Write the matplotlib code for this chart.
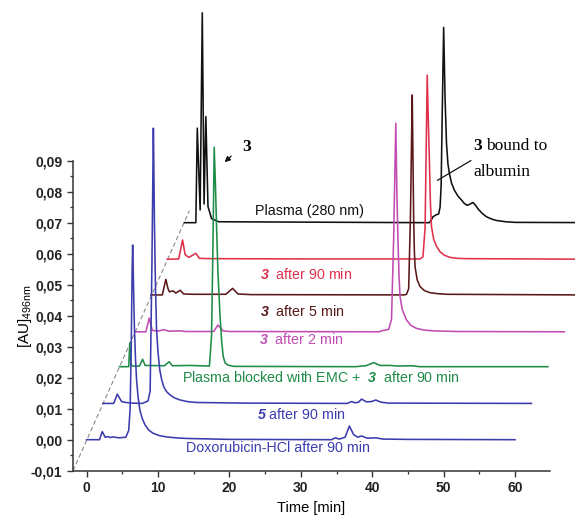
import matplotlib
matplotlib.use('Agg')
import matplotlib.pyplot as plt
from matplotlib.ticker import MultipleLocator, FuncFormatter

plt.rcParams['font.family'] = ['Liberation Sans', 'DejaVu Sans']
plt.rcParams['mathtext.fontset'] = 'custom'
plt.rcParams['mathtext.rm'] = 'Liberation Sans'
plt.rcParams['mathtext.bf'] = 'Liberation Sans:italic:bold'
plt.rcParams['mathtext.default'] = 'regular'

# each trace: own time (min) and absorbance above its own baseline,
# plus the waterfall shift (time, AU) used in the figure
dox_t = [0, 1.8, 2.2, 2.6, 3.0, 3.3, 3.7, 4.5, 5.5, 5.9, 6.1, 6.25, 6.38, 6.45, 6.55, 6.7, 6.85, 7.0, 7.2, 7.46,
         7.8, 8.2, 8.7, 9.3, 10.2, 11.2, 12.5, 14, 20,
         34.3, 34.8, 35.4, 36.2, 36.8, 37.4, 38.0, 38.5, 39.3, 40.5, 41.5, 45, 60]
dox_v = [0, 0, 0.0026, 0.0008, 0.0010, 0.0007, 0.0009, 0.0006, 0.0008, 0.0030, 0.010, 0.030, 0.055, 0.0628, 0.052,
         0.036, 0.026, 0.0193, 0.0140, 0.0096, 0.0068, 0.0047, 0.0031, 0.0021, 0.0013, 0.0009, 0.0006, 0.0004, 0.0001,
         0, 0.0006, 0.0002, 0.0008, 0.0044, 0.0016, 0.0008, 0.0012, 0.0005, 0.0006, 0.0002, 0.0001, 0]

c5_t = [0, 1.5, 2.0, 2.6, 3.2, 4.0, 5.5, 6.3, 6.6, 6.85, 7.05, 7.1, 7.2, 7.35, 7.5, 7.7, 7.95, 8.2, 8.5, 8.9,
        9.4, 10.0, 10.8, 11.8, 13.1, 20,
        34.2, 34.8, 35.3, 35.8, 36.2, 36.9, 37.6, 38.2, 38.9, 40, 60]
c5_v = [0, 0, 0.0030, 0.0006, 0.0003, 0.0001, 0, 0.0008, 0.004, 0.045, 0.0888, 0.08, 0.058, 0.037, 0.0237, 0.0165,
        0.0108, 0.0078, 0.0054, 0.0038, 0.0027, 0.0018, 0.0011, 0.0006, 0.0003, 0.0001,
        0, 0.0006, 0.0002, 0.0004, 0.0014, 0.0005, 0.0006, 0.0011, 0.0004, 0.0001, 0]

emc_t = [0, 1.3, 1.45, 1.6, 1.8, 2.8, 3.24, 3.6, 6.3, 6.97, 7.4, 9.9, 12.6, 12.9, 13.1, 13.27, 13.45, 13.6, 13.8,
         14.07, 14.3, 14.53, 14.8, 15.2, 16, 33, 34.5, 35.6, 36.5, 37.9, 39.0, 41.1, 42, 60]
emc_v = [0, 0, 0.0077, 0.001, 0.0002, 0.0002, 0.0024, 0.0004, 0.0003, 0.0016, 0.0003, 0.0004, 0.0002, 0.01, 0.04,
         0.0708, 0.058, 0.045, 0.030, 0.0172, 0.0085, 0.0033, 0.0012, 0.0005, 0.0001, 0, 0.0003, 0.0013, 0.0004,
         0.0004, 0.0002, 0.0003, 0, 0]

m2_t = [0, 1.4, 1.87, 2.3, 3.0, 3.93, 4.6, 6.1, 7.0, 10.9, 11.5, 12.2, 13, 34, 34.6, 35.4, 35.8, 36.1, 36.4, 36.55,
        36.7, 36.85, 37.0, 37.3, 37.9, 38.5, 39.3, 40.3, 41.6, 45, 60]
m2_v = [0, 0, 0.0044, 0.0005, 0.0002, 0.0007, 0.0002, 0.0003, 0.0001, 0.0001, 0.0022, 0.0003, 0.0001, 0, 0.0004,
        0.0008, 0.004, 0.03, 0.0673, 0.045, 0.03, 0.018, 0.0113, 0.0072, 0.0038, 0.0021, 0.0011, 0.0006, 0.0003,
        0.0001, 0]

m5_t = [0, 1.6, 2.1, 2.4, 2.6, 3.1, 3.5, 4.1, 4.6, 6, 10.5, 11.44, 12.2, 14, 35.5, 35.8, 36.1, 36.35, 36.6, 36.7,
        36.8, 36.9, 37.0, 37.3, 37.7, 38.3, 39.1, 40.2, 41.5, 60]
m5_v = [0, 0, 0.005, 0.002, 0.0010, 0.0013, 0.0006, 0.0015, 0.0003, 0.0002, 0.0002, 0.0021, 0.0003, 0.0001, 0,
        0.0002, 0.002, 0.025, 0.0645, 0.045, 0.025, 0.014, 0.009, 0.0048, 0.0027, 0.0014, 0.0007, 0.0004, 0.0002, 0]

m90_t = [0, 1.6, 2.14, 2.5, 3.0, 4.0, 4.5, 6, 20, 35.4, 35.8, 36.1, 36.4, 36.55, 36.7, 36.85, 37.0, 37.3, 37.7,
         38.2, 38.8, 39.6, 40.6, 42, 60]
m90_v = [0, 0.0001, 0.0062, 0.0015, 0.0006, 0.0019, 0.0003, 0.0002, 0.0001, 0.0001, 0.0008, 0.01, 0.0594, 0.045,
         0.032, 0.018, 0.0105, 0.0065, 0.0042, 0.0024, 0.0013, 0.0006, 0.0003, 0.0002, 0]

pl_t = [0, 1.6, 1.8, 2.2, 2.5, 2.75, 3.0, 3.3, 3.8, 4.8, 34.3, 34.6, 34.8, 35.3, 35.6, 35.8, 35.95, 36.1, 36.3,
        36.5, 36.7, 36.9, 37.1, 37.4, 37.8, 38.3, 38.8, 39.2, 39.6, 40.0, 40.4, 40.7, 41.1, 41.7, 42.3, 43.0, 43.7,
        45, 46.3, 60]
pl_v = [0, 0, 0.0305, 0.0041, 0.0677, 0.006, 0.0342, 0.0052, 0.0013, 0.0003, 0, 0.001, 0.0019, 0.0026, 0.0028,
        0.005, 0.012, 0.035, 0.063, 0.040, 0.0256, 0.019, 0.0159, 0.0128, 0.0105, 0.0086, 0.0073, 0.0062, 0.0056,
        0.0060, 0.0065, 0.0058, 0.0045, 0.0030, 0.0019, 0.0012, 0.0007, 0.0003, 0.0001, 0]

shift_t = [0, 2.3, 4.6, 6.9, 9.0, 11.3, 13.7]
shift_v = [0, 0.0117, 0.02355, 0.0348, 0.0467, 0.0582, 0.0700]

colors = ['#3c3cae', '#3c3cae', '#1f8c48', '#c04cb4', '#5a1818', '#e0304c', '#111111']
labels = ['Doxorubicin-HCl after 90 min', r'$\mathbf{5}$ after 90 min',
          r'Plasma blocked with EMC +  $\mathbf{3}$  after 90 min',
          r'$\mathbf{3}$  after 2 min', r'$\mathbf{3}$  after 5 min', r'$\mathbf{3}$  after 90 min',
          'Plasma (280 nm)']
label_t = [26.8, 30.0, 32.8, 30.1, 30.2, 30.7, 31.2]
label_v = [-0.0027, 0.0080, 0.0202, 0.0322, 0.0413, 0.0533, 0.0737]

guide_t = [-1.9, 14.4]
guide_v = [-0.01, 0.0739]

traces = [(dox_t, dox_v), (c5_t, c5_v), (emc_t, emc_v), (m2_t, m2_v), (m5_t, m5_v), (m90_t, m90_v), (pl_t, pl_v)]

fig = plt.figure(figsize=(5.75, 5.16), dpi=100)
ax = fig.add_axes([0.127, 0.0878, 0.8296, 0.6008])

ax.plot(guide_t, guide_v, color='#8a8a8a', lw=0.8, dashes=(4, 2.5), clip_on=False)

# draw back to front so the lower traces sit on top
for i in reversed(range(len(traces))):
    t, v = traces[i]
    ax.plot([x + shift_t[i] for x in t], [y + shift_v[i] for y in v],
            color=colors[i], lw=1.15, clip_on=False, solid_joinstyle='round',
            zorder=3 + (len(traces) - i) * 0.1)
    ax.text(label_t[i], label_v[i], labels[i], color=colors[i], fontsize=10.3,
            ha='center', va='center')

# annotations
serif = ['Liberation Serif', 'DejaVu Serif']
ax.text(21.85, 0.0945, '3', fontsize=12.5, family=serif, fontweight='bold', ha='left', va='center')
ax.annotate('', xy=(19.05, 0.0889), xytext=(20.53, 0.0921), annotation_clip=False,
            arrowprops=dict(arrowstyle='-|>', color='#111111', lw=0.9, mutation_scale=8))
ax.text(54.1, 0.0947, '3', fontsize=12.5, family=serif, fontweight='bold', ha='left', va='center')
ax.annotate('bound to', xy=(54.1, 0.0947), xytext=(9.5, 0), textcoords='offset points',
            fontsize=12.5, family=serif, ha='left', va='center', annotation_clip=False)
ax.text(54.1, 0.0865, 'albumin', fontsize=12.5, family=serif, ha='left', va='center')
ax.annotate('', xy=(48.8, 0.0832), xytext=(54.16, 0.0905), annotation_clip=False,
            arrowprops=dict(arrowstyle='-', color='#111111', lw=0.9))

ax.set_xlim(-1.9, 64.9)
ax.set_ylim(-0.01, 0.09)
ax.xaxis.set_major_locator(MultipleLocator(10))
ax.xaxis.set_minor_locator(MultipleLocator(5))
ax.yaxis.set_major_locator(MultipleLocator(0.01))
ax.yaxis.set_minor_locator(MultipleLocator(0.005))
ax.yaxis.set_major_formatter(FuncFormatter(lambda v, p: f'{v:.2f}'.replace('.', ',')))

for s in ['top', 'right']:
    ax.spines[s].set_visible(False)
for s in ['left', 'bottom']:
    ax.spines[s].set_linewidth(1.1)
    ax.spines[s].set_color('#333333')

ax.tick_params(which='major', direction='out', length=4, width=1.0, color='#333333',
               labelsize=10, labelcolor='#222222')
ax.tick_params(which='minor', direction='out', length=2.5, width=0.9, color='#333333')
for lab in ax.get_xticklabels() + ax.get_yticklabels():
    lab.set_fontweight('bold')

ax.set_xlabel('Time [min]', fontsize=10.5, labelpad=4)
ax.set_ylabel('[AU]$_{496nm}$', fontsize=11, labelpad=-2)
ax.patch.set_visible(False)

plt.savefig('out.png', dpi=100)
